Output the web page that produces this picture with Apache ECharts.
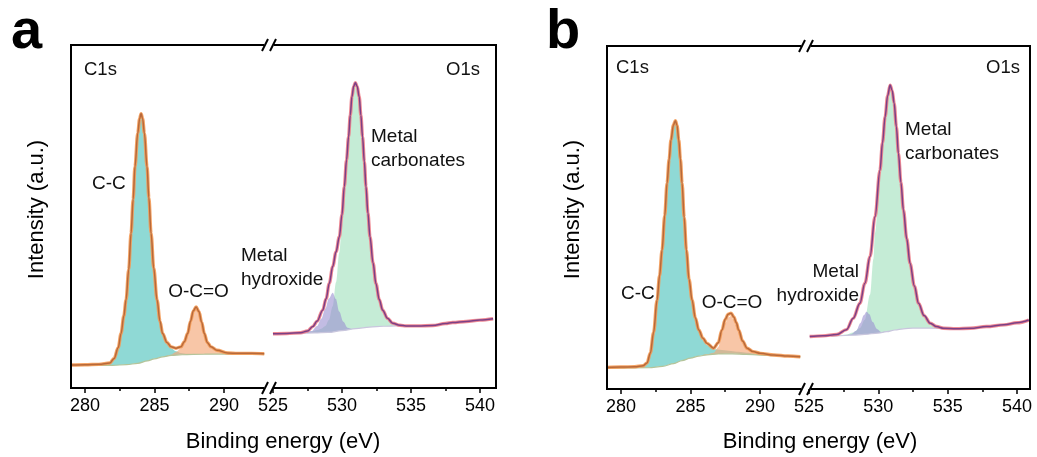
<!DOCTYPE html>
<html><head><meta charset="utf-8">
<script src="https://cdn.jsdelivr.net/npm/echarts@6/dist/echarts.min.js"></script>
<style>html,body{margin:0;padding:0;background:#fff}#chart{width:1037px;height:457px}</style>
</head><body><div id="chart"></div>
<script>
// ---------- tick values ----------
const c1sTicks = [280, 285, 290];
const c1sMinor = [282.5, 287.5];
const o1sTicks = [525, 530, 535, 540];
const o1sMinor = [527.5, 532.5, 537.5];

// ---------- panel a : [binding energy (eV), intensity (a.u.)] ----------
const aC1sMeasured = [[279.0,6.7],[280.0,6.8],[281.0,6.9],[281.8,7.3],[282.1,8.6],[282.4,11.8],[282.6,15.9],[282.8,21.0],[282.96,25.7],[283.15,34.5],[283.32,45.1],[283.47,55.0],[283.6,64.5],[283.8,74.3],[283.94,78.6],[284.04,80.0],[284.15,78.6],[284.28,74.3],[284.47,64.5],[284.6,55.5],[284.76,45.1],[284.95,35.0],[285.19,25.7],[285.4,19.5],[285.59,15.9],[285.9,13.3],[286.2,12.0],[286.55,11.6],[286.91,12.0],[287.15,13.5],[287.39,15.9],[287.6,19.5],[287.8,22.5],[288.0,23.6],[288.2,22.3],[288.4,19.2],[288.59,15.9],[288.8,13.3],[289.07,12.0],[289.5,11.0],[290.27,10.2],[291.0,10.1],[292.0,10.1],[292.9,10.0]];
const aC1sBackground = [[279.0,6.6],[282.0,6.6],[283.0,6.8],[283.8,7.2],[284.5,7.9],[285.0,8.5],[285.6,9.1],[286.2,9.5],[287.0,9.7],[288.6,9.85],[290.5,9.9],[292.9,9.9]];
const aC1sCC = [[279.0,6.6],[281.0,6.65],[281.8,7.1],[282.1,8.5],[282.4,11.7],[282.6,15.8],[282.8,20.9],[282.96,25.6],[283.15,34.4],[283.32,45.0],[283.47,54.9],[283.6,64.4],[283.8,74.2],[283.94,78.5],[284.04,79.9],[284.15,78.5],[284.28,74.2],[284.47,64.4],[284.6,55.4],[284.76,45.0],[284.95,34.9],[285.19,25.6],[285.4,19.3],[285.59,15.6],[285.9,12.9],[286.2,11.6],[286.55,10.7],[286.9,10.2],[287.4,9.95],[288.0,9.85],[289.0,9.85]];
const aC1sOCO = [[285.8,9.3],[286.2,9.7],[286.55,10.5],[286.91,11.6],[287.15,13.3],[287.39,15.8],[287.6,19.4],[287.8,22.4],[288.0,23.5],[288.2,22.2],[288.4,19.1],[288.59,15.8],[288.8,13.2],[289.07,11.9],[289.5,10.9],[290.27,10.1],[290.8,9.9]];
const aO1sMeasured = [[525.0,15.8],[526.0,15.9],[527.0,16.1],[527.5,16.6],[527.88,17.9],[528.2,19.5],[528.6,22.7],[528.85,26.0],[529.08,30.5],[529.33,35.4],[529.57,39.7],[529.81,44.1],[530.0,50.5],[530.17,58.7],[530.33,66.5],[530.48,73.3],[530.6,79.5],[530.72,84.9],[530.85,88.0],[530.97,89.0],[531.1,88.0],[531.25,84.9],[531.37,79.5],[531.49,73.3],[531.62,66.0],[531.74,58.7],[531.88,51.0],[532.03,44.1],[532.25,36.5],[532.46,30.5],[532.7,25.8],[532.95,22.7],[533.3,20.3],[533.67,18.9],[534.2,18.3],[534.64,18.1],[535.5,18.1],[536.57,18.2],[537.5,18.8],[538.02,19.1],[539.0,19.4],[540.0,19.8],[540.95,20.2]];
const aO1sBackground = [[526.7,15.95],[527.0,16.0],[528.0,16.05],[529.0,16.2],[530.0,16.7],[531.0,17.3],[532.0,17.75],[533.0,18.0],[534.0,18.1],[535.3,18.1]];
const aO1sHydroxide = [[527.3,16.05],[527.8,16.6],[528.2,18.1],[528.5,20.2],[528.8,23.2],[529.05,26.1],[529.33,27.8],[529.55,26.0],[529.8,22.3],[530.1,19.3],[530.4,17.6],[530.8,17.2],[531.2,17.4]];
const aO1sCarbonate = [[527.3,16.05],[527.8,16.5],[528.2,16.9],[528.5,17.3],[528.8,18.1],[529.05,19.8],[529.33,23.8],[529.57,30.8],[529.81,39.5],[530.0,47.5],[530.17,56.6],[530.33,65.2],[530.48,72.6],[530.6,79.2],[530.72,84.7],[530.85,87.9],[530.97,88.9],[531.1,87.9],[531.25,84.8],[531.37,79.4],[531.49,73.2],[531.62,65.9],[531.74,58.6],[531.88,50.9],[532.03,44.0],[532.25,36.4],[532.46,30.4],[532.7,25.7],[532.95,22.6],[533.3,20.2],[533.67,18.8],[534.2,18.2],[534.8,18.1]];

// ---------- panel b ----------
const bC1sMeasured = [[279.0,6.3],[280.0,6.4],[281.0,6.5],[281.6,6.8],[281.88,7.6],[282.12,10.5],[282.35,16.5],[282.6,25.9],[282.78,33.0],[282.96,40.5],[283.15,50.5],[283.32,60.0],[283.47,67.0],[283.6,72.6],[283.78,77.0],[283.92,78.2],[284.04,76.8],[284.16,72.6],[284.28,67.0],[284.4,60.0],[284.55,50.0],[284.71,40.5],[284.9,32.0],[285.12,25.9],[285.35,20.8],[285.6,17.2],[285.9,14.8],[286.19,13.3],[286.67,11.9],[287.0,13.5],[287.27,17.2],[287.5,20.3],[287.72,21.8],[287.92,22.1],[288.12,21.0],[288.3,19.3],[288.47,17.2],[288.75,14.0],[289.07,11.9],[289.5,10.9],[290.03,10.4],[291.0,9.9],[292.0,9.6],[292.9,9.4]];
const bC1sBackground = [[279.0,6.1],[282.0,6.2],[283.0,6.6],[283.8,7.4],[284.4,8.3],[285.0,9.0],[285.6,9.6],[286.2,9.95],[287.0,10.2],[288.0,10.25],[289.0,10.1],[290.0,9.9],[291.0,9.7],[292.9,9.3]];
const bC1sCC = [[279.0,6.1],[281.0,6.3],[281.6,6.6],[281.88,7.4],[282.12,10.3],[282.35,16.3],[282.6,25.7],[282.78,32.8],[282.96,40.3],[283.15,50.3],[283.32,59.8],[283.47,66.8],[283.6,72.4],[283.78,76.8],[283.92,78.0],[284.04,76.6],[284.16,72.4],[284.28,66.8],[284.4,59.8],[284.55,49.8],[284.71,40.3],[284.9,31.8],[285.12,25.7],[285.35,20.5],[285.6,16.9],[285.9,14.3],[286.19,12.8],[286.67,11.6],[287.27,11.4],[287.92,11.1],[288.47,10.85],[289.07,10.55],[289.5,10.35],[290.03,10.1],[290.6,9.85],[291.2,9.65]];
const bC1sOCO = [[285.8,9.75],[286.2,10.2],[286.67,10.6],[287.0,12.2],[287.27,16.1],[287.5,19.25],[287.72,20.85],[287.92,21.3],[288.12,20.25],[288.3,18.65],[288.47,16.6],[288.75,13.45],[289.07,11.5],[289.5,10.6],[290.03,10.1],[290.6,9.85]];
const bO1sMeasured = [[525.05,15.3],[526.0,15.5],[527.0,15.9],[527.7,17.3],[528.19,20.6],[528.67,25.0],[529.03,30.8],[529.4,38.6],[529.76,50.2],[530.12,63.8],[530.3,71.8],[530.49,79.4],[530.67,85.5],[530.85,88.6],[531.0,87.0],[531.14,83.3],[531.3,76.5],[531.45,68.7],[531.63,60.2],[531.81,52.2],[532.05,43.8],[532.29,36.6],[532.6,30.0],[532.9,25.0],[533.3,21.4],[533.74,19.2],[534.2,18.2],[534.71,17.7],[535.6,17.6],[536.64,17.7],[537.8,18.2],[539.06,18.7],[540.0,19.3],[540.85,20.1]];
const bO1sBackground = [[526.6,15.4],[527.0,15.5],[528.2,15.7],[529.0,15.9],[530.0,16.3],[530.6,16.7],[531.2,17.2],[531.8,17.55],[532.5,17.75],[533.7,17.75],[535.2,17.55]];
const bO1sHydroxide = [[527.6,15.65],[528.0,15.9],[528.4,17.0],[528.7,19.2],[528.95,21.5],[529.15,22.5],[529.35,21.8],[529.6,19.5],[529.9,17.5],[530.2,16.6],[530.6,16.75]];
const bO1sCarbonate = [[527.0,15.5],[527.7,15.9],[528.19,16.5],[528.67,17.8],[529.03,20.2],[529.4,27.5],[529.65,38.0],[529.76,45.5],[530.12,62.3],[530.3,71.2],[530.49,79.2],[530.67,85.4],[530.85,88.5],[531.0,86.9],[531.14,83.2],[531.3,76.4],[531.45,68.6],[531.63,60.1],[531.81,52.1],[532.05,43.7],[532.29,36.5],[532.6,29.9],[532.9,24.9],[533.3,21.3],[533.74,19.1],[534.2,18.0],[534.7,17.6]];

// ---------- layout & style ----------
const FONT = '"Liberation Sans", Arial, Helvetica, sans-serif';
const panels = [
  { letter:'a', letterX:11, left:71, top:45, brk:268, right:496, bottom:388,
    cRange:[279.0, 293.17], oRange:[524.64, 541.16], ytx:37, xtx:283,
    c:{m:aC1sMeasured, bg:aC1sBackground, p1:aC1sCC, p2:aC1sOCO},
    o:{m:aO1sMeasured, bg:aO1sBackground, p1:aO1sCarbonate, p2:aO1sHydroxide},
    labels:[
      {t:'C1s', x:84, y:69.5, a:'left', s:18.5},
      {t:'O1s', x:480, y:69.5, a:'right', s:18.5},
      {t:'C-C', x:92, y:184, a:'left', s:19},
      {t:'O-C=O', x:198.5, y:292, a:'center', s:19},
      {t:'Metal\nhydroxide', x:241, y:268, a:'left', s:19},
      {t:'Metal\ncarbonates', x:371, y:149, a:'left', s:19}
    ]},
  { letter:'b', letterX:546, left:607, top:46, brk:805, right:1030, bottom:389,
    cRange:[279.0, 293.24], oRange:[524.71, 540.94], ytx:573, xtx:820,
    c:{m:bC1sMeasured, bg:bC1sBackground, p1:bC1sCC, p2:bC1sOCO},
    o:{m:bO1sMeasured, bg:bO1sBackground, p1:bO1sCarbonate, p2:bO1sHydroxide},
    labels:[
      {t:'C1s', x:616, y:68, a:'left', s:18.5},
      {t:'O1s', x:1020, y:68, a:'right', s:18.5},
      {t:'C-C', x:621, y:294, a:'left', s:19},
      {t:'O-C=O', x:732, y:303, a:'center', s:19},
      {t:'Metal\nhydroxide', x:859, y:284, a:'right', s:19},
      {t:'Metal\ncarbonates', x:905, y:142, a:'left', s:19}
    ]}
];

const styleC = {p1:['#5fc9c3',0.7], p2:['#f5a878',0.65], bg:'#b5c49a', fringe:'#f39a55', core:'#b8693a'};
const styleO = {p1:['#9fe0bb',0.6], p2:['#9a8fd0',0.6], bg:'#c9c6dd', fringe:'#ec7d88', core:'#7c3f86'};

const grid = [], xAxis = [], yAxis = [], series = [], graphic = [];

function addRegion(p, left, width, range, ticks, minor, d, st) {
  const gi = grid.length;
  grid.push({left:left, top:p.top, width:width, height:p.bottom - p.top, outerBoundsMode:'none', containLabel:false});
  const xi = xAxis.length;
  xAxis.push({type:'value', gridIndex:gi, min:range[0], max:range[1], position:'bottom',
    axisLine:{show:false}, splitLine:{show:false},
    axisTick:{show:true, customValues:ticks, length:5, lineStyle:{color:'#000', width:1.5}},
    axisLabel:{show:true, customValues:ticks, color:'#000', fontSize:18, fontFamily:FONT, margin:9}});
  xAxis.push({type:'value', gridIndex:gi, min:range[0], max:range[1], position:'bottom',
    axisLine:{show:false}, splitLine:{show:false},
    axisTick:{show:true, customValues:minor, length:3, lineStyle:{color:'#000', width:1.5}},
    axisLabel:{show:false}});
  yAxis.push({type:'value', gridIndex:gi, min:0, max:100, show:false, splitLine:{show:false}});
  const base = {type:'line', xAxisIndex:xi, yAxisIndex:gi, showSymbol:false, symbol:'none',
    smooth:0.35, smoothMonotone:'x', silent:true, animation:false};
  series.push(Object.assign({}, base, {data:d.p1, lineStyle:{width:0, opacity:0}, areaStyle:{color:st.p1[0], opacity:st.p1[1]}}));
  series.push(Object.assign({}, base, {data:d.p2, lineStyle:{width:0, opacity:0}, areaStyle:{color:st.p2[0], opacity:st.p2[1]}}));
  series.push(Object.assign({}, base, {data:d.bg, lineStyle:{width:1.2, color:st.bg}, areaStyle:{color:'#ffffff', opacity:1}}));
  series.push(Object.assign({}, base, {data:d.m, lineStyle:{width:3.4, color:st.fringe, opacity:0.9}}));
  series.push(Object.assign({}, base, {data:d.m, lineStyle:{width:1.5, color:st.core}}));
}

function ln(x1,y1,x2,y2){ return {type:'line', z:100, silent:true, shape:{x1,y1,x2,y2}, style:{stroke:'#000', lineWidth:2}}; }

panels.forEach(p => {
  addRegion(p, p.left, p.brk - p.left, p.cRange, c1sTicks, c1sMinor, p.c, styleC);
  addRegion(p, p.brk, p.right - p.brk, p.oRange, o1sTicks, o1sMinor, p.o, styleO);
  const c = p.brk + 1;
  // frame with axis breaks
  graphic.push(ln(p.left, p.top, p.left, p.bottom));
  graphic.push(ln(p.right, p.top, p.right, p.bottom));
  [p.top, p.bottom].forEach(y => {
    graphic.push(ln(p.left - 1, y, c - 5, y));
    graphic.push(ln(c + 5, y, p.right + 1, y));
    graphic.push(ln(c - 7, y + 6, c - 1, y - 6));
    graphic.push(ln(c + 1, y + 6, c + 7, y - 6));
  });
  // panel letter
  graphic.push({type:'text', z:100, silent:true, x:p.letterX, y:33,
    style:{text:p.letter, fill:'#000', font:'bold 56px ' + FONT, textAlign:'left', textVerticalAlign:'middle'}});
  // axis titles
  graphic.push({type:'text', z:100, silent:true, x:p.ytx, y:209.5, rotation:Math.PI/2,
    style:{text:'Intensity (a.u.)', fill:'#000', font:'22px ' + FONT, textAlign:'center', textVerticalAlign:'middle'}});
  graphic.push({type:'text', z:100, silent:true, x:p.xtx, y:442,
    style:{text:'Binding energy (eV)', fill:'#000', font:'22px ' + FONT, textAlign:'center', textVerticalAlign:'middle'}});
  p.labels.forEach(l => {
    graphic.push({type:'text', z:100, silent:true, x:l.x, y:l.y,
      style:{text:l.t, fill:'#111', font:l.s + 'px ' + FONT, textAlign:l.a, textVerticalAlign:'middle', lineHeight:24}});
  });
});

const chart = echarts.init(document.getElementById('chart'), null, {renderer:'canvas'});
chart.setOption({animation:false, backgroundColor:'#ffffff', grid, xAxis, yAxis, series, graphic});
</script>
</body></html>
